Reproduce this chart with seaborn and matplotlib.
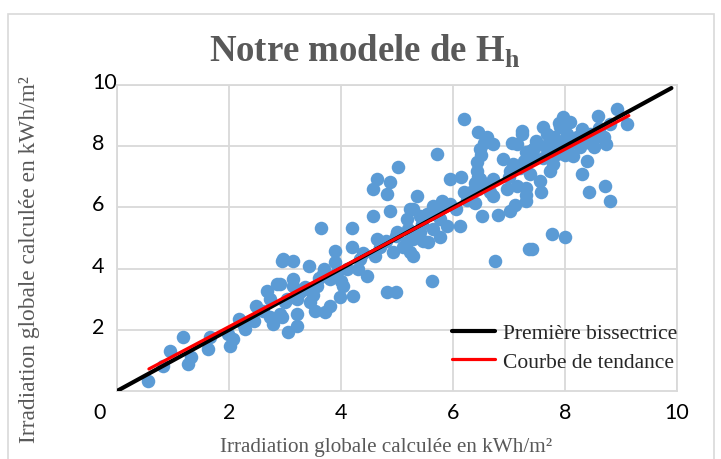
import numpy as np
import pandas as pd
import matplotlib
matplotlib.use("Agg")
import matplotlib.pyplot as plt
import seaborn as sns
from matplotlib.patches import Rectangle
from matplotlib.lines import Line2D
from matplotlib.transforms import ScaledTranslation

# ----------------------------------------------------------
# DATA
# ----------------------------------------------------------
x_vals = [
    0.56, 0.83, 0.95, 1.18, 1.27, 1.33, 1.66, 1.63, 2.02, 2.08, 2.17, 2.29, 1.99,
    2.49, 2.67, 2.85, 2.94, 3.15, 2.79, 2.94, 3.06, 3.21, 3.15, 3.21, 2.73,
    5.02, 4.64, 4.88, 4.58, 4.82, 5.35, 4.88, 4.58, 3.65, 4.19, 3.89, 4.19, 2.97,
    3.42, 3.68, 4.82, 4.99, 4.22, 3.98, 4.46, 3.71, 3.54, 3.21, 2.91, 2.91, 3.15,
    3.39, 5.23, 5.17, 5.29, 4.93, 4.99, 4.64, 4.34, 4.10, 3.92, 3.80, 3.57, 3.27,
    3.03, 2.73, 3.45, 3.80, 4.04,
    6.19, 6.45, 6.60, 6.72, 6.48, 6.42, 6.42, 6.48, 6.45, 7.05, 7.23, 6.90, 7.02,
    6.72, 6.72, 6.96, 7.14, 7.31, 7.11, 7.02, 6.80, 6.51, 6.39, 6.19, 6.13, 5.95,
    5.71, 5.80, 5.65, 5.29, 5.41, 5.17, 5.77, 5.89, 5.65, 5.41, 5.77, 5.56, 5.29,
    5.23, 6.75, 7.35, 5.62, 6.15, 6.33, 6.66,
    7.23, 7.61, 7.97, 8.09, 7.91, 8.30, 8.59, 8.92, 9.10, 8.80, 8.69, 8.74, 8.45,
    8.51, 8.27, 8.39, 8.30, 8.15, 7.97, 7.79, 7.67, 7.49, 7.38, 7.14, 7.61, 7.79,
    7.73, 7.26, 7.08, 7.38, 7.55, 7.31, 7.58, 7.31, 8.42, 8.71, 8.80, 7.76, 8.00,
    7.41, 8.63, 8.21, 8.03,
    5.53, 5.47,
    3.60, 3.70, 3.90, 4.00, 4.30, 4.40, 4.60, 4.70, 4.80, 5.00, 5.10, 5.20, 5.45,
    5.60, 5.75, 5.95, 6.05, 6.25, 6.55, 7.00, 7.20, 7.45, 7.70, 7.85, 8.05, 8.45,
    8.60, 2.60, 3.00, 3.35, 3.50, 2.45, 2.25,
    7.45, 7.80, 8.00, 8.35, 8.55, 7.90, 7.30, 7.65, 6.50, 6.55, 6.45, 6.40,
]
y_vals = [
    0.34, 0.83, 1.32, 1.75, 0.88, 1.11, 1.76, 1.37, 1.48, 1.70, 2.35, 2.03, 1.86,
    2.79, 3.28, 3.50, 4.26, 4.26, 2.19, 2.41, 1.92, 2.13, 3.44, 3.00, 2.42,
    7.31, 6.93, 6.82, 6.60, 6.44, 6.38, 5.89, 5.73, 5.34, 5.34, 4.58, 4.69, 4.31,
    4.10, 3.82, 3.22, 3.22, 3.11, 3.06, 3.77, 2.57, 2.62, 2.52, 2.52, 3.50, 3.66,
    3.33, 5.95, 4.86, 4.42, 4.53, 5.07, 4.97, 4.31, 3.99, 3.88, 3.66, 3.44, 3.22,
    3.00, 3.00, 2.90, 2.79, 3.44,
    8.89, 8.45, 8.29, 8.07, 7.91, 7.47, 7.20, 6.93, 6.60, 8.12, 8.40, 7.58, 7.20,
    6.93, 6.38, 6.60, 6.71, 6.41, 6.08, 5.88, 5.75, 5.73, 6.16, 6.49, 5.40, 6.93,
    7.75, 6.22, 6.06, 5.95, 5.73, 5.62, 5.62, 5.40, 5.29, 5.18, 5.02, 4.86, 4.97,
    4.53, 4.26, 4.64, 3.60, 6.98, 6.49, 6.49,
    8.51, 8.62, 8.94, 8.78, 8.62, 8.56, 9.00, 9.22, 8.73, 8.73, 8.29, 8.07, 8.40,
    7.96, 7.96, 7.53, 7.09, 7.69, 8.18, 8.07, 8.40, 8.18, 7.85, 8.07, 7.63, 7.42,
    7.20, 7.53, 7.42, 7.09, 6.87, 6.65, 6.49, 6.22, 6.49, 6.71, 6.22, 5.13, 5.02,
    4.64, 8.40, 8.29, 8.40,
    5.78, 4.91,
    3.70, 4.00, 4.20, 3.60, 4.00, 4.50, 4.40, 4.70, 4.90, 5.20, 4.70, 5.30, 5.45,
    5.80, 6.00, 6.10, 5.95, 6.25, 6.75, 7.00, 7.30, 7.60, 7.90, 7.75, 8.00, 8.10,
    8.60, 2.60, 2.90, 3.40, 3.15, 2.30, 2.20,
    7.95, 8.30, 7.70, 8.25, 8.30, 8.75, 7.80, 8.00, 7.70, 8.10, 7.00, 6.80,
]

# first bisector and Excel trend line ends
bisect_x = [0.0, 9.9]
bisect_y = [0.0, 9.9]
trend_x = [0.57, 9.14]
trend_y = [0.72, 9.00]

x_ticks = [0, 2, 4, 6, 8, 10]
y_ticks = [2, 4, 6, 8, 10]

title_txt = r"Notre modele de H$_{\mathbf{h}}$"
axis_txt = "Irradiation globale calculée en kWh/m²"
legend_txt = ["Première bissectrice", "Courbe de tendance"]

df = pd.DataFrame({"x": x_vals, "y": y_vals})

# ----------------------------------------------------------
# STYLE
# ----------------------------------------------------------
sns.set_theme(style="whitegrid")
plt.rcParams["font.family"] = ["Liberation Serif", "DejaVu Serif"]
plt.rcParams["mathtext.fontset"] = "custom"
plt.rcParams["mathtext.rm"] = "Liberation Serif"
plt.rcParams["mathtext.bf"] = "Liberation Serif:bold"

grid_col = "#D9D9D9"
text_gray = "#595959"

fig = plt.figure(figsize=(7.21, 4.60), dpi=100)
ax = fig.add_axes([117 / 721, 68 / 460, 560 / 721, 306 / 460])

sns.scatterplot(data=df, x="x", y="y", ax=ax, color="#5B9BD5", s=95,
                linewidth=0, alpha=1, zorder=3)
sns.lineplot(x=bisect_x, y=bisect_y, ax=ax, color="black", linewidth=3.0, zorder=4)
sns.lineplot(x=trend_x, y=trend_y, ax=ax, color="#FF0000", linewidth=2.3, zorder=5)

ax.set_xlim(0, 10)
ax.set_ylim(0, 10)
ax.set_xticks(x_ticks)
ax.set_yticks(y_ticks)
ax.grid(True, color=grid_col, linewidth=1.3)
for sp in ax.spines.values():
    sp.set_color(grid_col)
    sp.set_linewidth(1.3)

ax.tick_params(axis="both", length=0, labelsize=15.5, colors="black")
ax.tick_params(axis="x", pad=8)
ax.tick_params(axis="y", pad=18)
for lab in ax.get_xticklabels() + ax.get_yticklabels():
    lab.set_family(["Lato", "DejaVu Sans"])
for lab in ax.get_yticklabels():
    lab.set_horizontalalignment("left")
    lab.set_transform(lab.get_transform() + ScaledTranslation(0, 5 / 100, fig.dpi_scale_trans))
xl = ax.get_xticklabels()
xl[0].set_transform(xl[0].get_transform() + ScaledTranslation(-17 / 100, 0, fig.dpi_scale_trans))

ax.set_xlabel(axis_txt, fontsize=15.2, color=text_gray)
ax.set_ylabel(axis_txt, fontsize=16.8, color=text_gray)
ax.xaxis.set_label_coords((386 - 117) / 560, (392 - 438) / 306)
ax.yaxis.set_label_coords((40 - 117) / 560, (392 - 260) / 306)

fig.text(0.506, 1 - 62 / 460, title_txt, ha="center", va="baseline",
         fontsize=26.5, fontweight="bold", color=text_gray)

handles = [Line2D([], [], color="black", lw=3.0),
           Line2D([], [], color="#FF0000", lw=2.3)]
ax.legend(handles, legend_txt, loc="upper left", frameon=False,
          bbox_to_anchor=((452 - 117) / 560, (392 - 324) / 306),
          borderaxespad=0, borderpad=0, fontsize=15.5, handlelength=2.0,
          handletextpad=0.35, labelspacing=0.4)

# light outer frame of the chart
fig.patches.append(Rectangle((8 / 721, -0.01), 706 / 721, (460 - 15) / 460 + 0.01,
                             transform=fig.transFigure, fill=False,
                             edgecolor=grid_col, linewidth=1.2))

fig.savefig("out.png", dpi=100)
